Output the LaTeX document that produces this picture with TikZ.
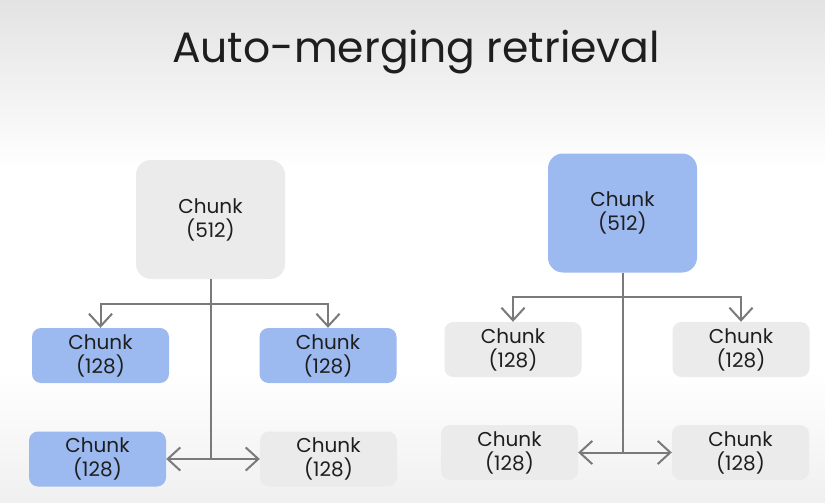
\documentclass[tikz,border=0pt]{standalone}
\usepackage{fontspec}
\setmainfont{Poppins}
\usetikzlibrary{positioning, arrows.meta}
\definecolor{chunkblue}{HTML}{9CB9F0}
\definecolor{chunkgray}{HTML}{EBEBEB}
\definecolor{linkgray}{HTML}{7A7A7A}
\definecolor{inkdark}{HTML}{1E1E1E}

\begin{document}
\begin{tikzpicture}[x=1pt, y=-1pt,
    chunk/.style={rounded corners=9pt, inner sep=0pt, text=inkdark, align=center,
      font=\fontsize{20}{24}\selectfont},
    bigchunk/.style={chunk, minimum width=149pt, minimum height=119pt, rounded corners=15pt},
    smallchunk/.style={chunk, minimum width=137pt, minimum height=55pt},
    link/.style={draw=linkgray, line width=2pt},
    linkarr/.style={link, -{Straight Barb[length=6pt, width=11pt, scale=2.1]}}]

  % background
  \useasboundingbox (0,0) rectangle (825,503);
  \shade[top color=black!11, bottom color=white] (0,0) rectangle (825,170);
  \fill[white] (0,170) rectangle (825,370);
  \shade[top color=white, bottom color=black!6] (0,370) rectangle (825,503);

  \node[text=inkdark, font=\fontsize{42.5}{50}\selectfont] (title) at (416,52) {Auto-merging retrieval};

  % left tree
  \node[bigchunk, fill=chunkgray] (lt) at (210.5,219.5) {Chunk\\(512)};
  \node[smallchunk, fill=chunkblue] (lml) at (100.5,355.5) {Chunk\\(128)};
  \node[smallchunk, fill=chunkblue] (lmr) at (328,355.5) {Chunk\\(128)};
  \node[smallchunk, fill=chunkblue] (lbl) at (97.5,459) {Chunk\\(128)};
  \node[smallchunk, fill=chunkgray] (lbr) at (328.5,459) {Chunk\\(128)};
  \coordinate (lj) at (210.5,304);
  \coordinate (lb) at (210.5,459);
  \draw[link] (lt.south) -- (lb);
  \draw[linkarr] (lj) -| (lml.north);
  \draw[linkarr] (lj) -| (lmr.north);
  \draw[linkarr] (lb) -- (lbl.east);
  \draw[linkarr] (lb) -- (lbr.west);

  % right tree
  \node[bigchunk, fill=chunkblue] (rt) at (622.5,213) {Chunk\\(512)};
  \node[smallchunk, fill=chunkgray] (rml) at (513,349.5) {Chunk\\(128)};
  \node[smallchunk, fill=chunkgray] (rmr) at (741,349.5) {Chunk\\(128)};
  \node[smallchunk, fill=chunkgray] (rbl) at (509.5,452.5) {Chunk\\(128)};
  \node[smallchunk, fill=chunkgray] (rbr) at (740.5,452.5) {Chunk\\(128)};
  \coordinate (rj) at (622.5,297);
  \coordinate (rb) at (622.5,452.5);
  \draw[link] (rt.south) -- (rb);
  \draw[linkarr] (rj) -| (rml.north);
  \draw[linkarr] (rj) -| (rmr.north);
  \draw[linkarr] (rb) -- (rbl.east);
  \draw[linkarr] (rb) -- (rbr.west);
\end{tikzpicture}
\end{document}
